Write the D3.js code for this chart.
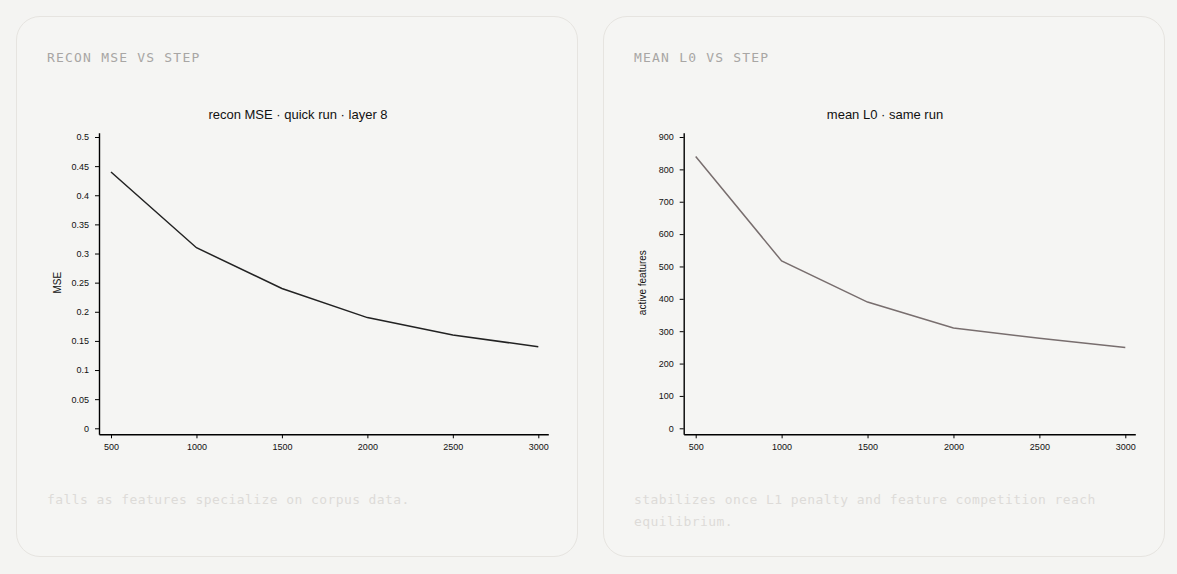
<!DOCTYPE html>
<html>
<head>
<meta charset="utf-8">
<script src="https://cdn.jsdelivr.net/npm/d3@7.9.0/dist/d3.min.js"></script>
<style>
  html, body { margin: 0; padding: 0; background: #f4f4f2; }
  body { width: 1177px; height: 574px; position: relative; overflow: hidden; }
  .card {
    position: absolute; top: 16px; width: 560px; height: 539px;
    border: 1px solid #e6e4e0; border-radius: 24px; background: #f5f5f3;
    box-sizing: content-box;
  }
  .card h3 {
    position: absolute; left: 30px; top: 33px; margin: 0;
    font: 13px "DejaVu Sans Mono", monospace; letter-spacing: 1.2px;
    color: #a8a6a4; font-weight: normal;
  }
  .card p {
    position: absolute; left: 30px; top: 472px; width: 480px; margin: 0;
    font: 13px "DejaVu Sans Mono", monospace; letter-spacing: 0.42px;
    line-height: 22px; color: #dddbd8;
  }
  .card svg { position: absolute; left: 0; top: 0; }
  .tick text { font-family: "Liberation Sans", Arial, sans-serif; font-size: 9px; fill: #111; }
</style>
</head>
<body>
<script>
// training steps shared by both charts
const steps = [500, 1000, 1500, 2000, 2500, 3000];
// recon MSE per step
const mseValues = [0.44, 0.31, 0.24, 0.19, 0.16, 0.14];
// mean L0 (active features) per step
const l0Values = [840, 517, 390, 310, 278, 250];
// y tick labels
const mseTicks = [0, 0.05, 0.1, 0.15, 0.2, 0.25, 0.3, 0.35, 0.4, 0.45, 0.5];
const l0Ticks = [0, 100, 200, 300, 400, 500, 600, 700, 800, 900];

const charts = [
  {
    left: 16, heading: 'RECON MSE VS STEP', title: 'recon MSE · quick run · layer 8',
    ylabel: 'MSE', values: mseValues, ticks: mseTicks, ymax: 0.5,
    axisX: 82, color: '#222222',
    note: 'falls as features specialize on corpus data.'
  },
  {
    left: 603, heading: 'MEAN L0 VS STEP', title: 'mean L0 · same run',
    ylabel: 'active features', values: l0Values, ticks: l0Ticks, ymax: 900,
    axisX: 79.7, color: '#786e6e',
    note: 'stabilizes once L1 penalty and feature competition reach equilibrium.'
  }
];

charts.forEach(c => {
  const card = d3.select('body').append('div')
    .attr('class', 'card')
    .style('left', c.left + 'px');

  card.append('h3').text(c.heading);
  card.append('p').text(c.note);

  const svg = card.append('svg').attr('width', 560).attr('height', 539);

  // pixel positions of first/last step and of 0 / max on the y side
  const x0 = c.axisX + 12, x1 = 521.3;
  const perStep = (x1 - x0) / (3000 - 500);
  const x = d3.scaleLinear()
    .domain([500 - 12 / perStep, 3000 + 10 / perStep])
    .range([c.axisX, x1 + 10]);

  const yZero = 411.3, yTop = 120;
  const perUnit = (yZero - yTop) / c.ymax;
  const y = d3.scaleLinear()
    .domain([-6 / perUnit, c.ymax + 4.3 / perUnit])
    .range([yZero + 6, yTop - 4.3]);

  svg.append('g')
    .attr('transform', `translate(0,${yZero + 6})`)
    .call(d3.axisBottom(x).tickValues(steps).tickSize(4).tickSizeOuter(0).tickPadding(5)
      .tickFormat(d => String(d)))
    .call(g => g.select('.domain').attr('stroke-width', 1.4));

  svg.append('g')
    .attr('transform', `translate(${c.axisX},0)`)
    .call(d3.axisLeft(y).tickValues(c.ticks).tickSize(4).tickSizeOuter(0).tickPadding(6)
      .tickFormat(d => String(+d.toFixed(2))))
    .call(g => g.select('.domain').attr('stroke-width', 1.4));

  svg.append('text')
    .attr('x', 281).attr('y', 102)
    .attr('text-anchor', 'middle')
    .style('font', '13px "Liberation Sans", Arial, sans-serif')
    .attr('fill', '#111')
    .text(c.title);

  svg.append('text')
    .attr('transform', `translate(${c.axisX - 38},${(yZero + yTop) / 2}) rotate(-90)`)
    .attr('text-anchor', 'middle')
    .style('font', '10px "Liberation Sans", Arial, sans-serif')
    .attr('fill', '#111')
    .text(c.ylabel);

  const line = d3.line()
    .x((d, i) => x(steps[i]))
    .y(d => y(d));

  svg.append('path')
    .datum(c.values)
    .attr('d', line)
    .attr('fill', 'none')
    .attr('stroke', c.color)
    .attr('stroke-width', 1.5);
});
</script>
</body>
</html>
